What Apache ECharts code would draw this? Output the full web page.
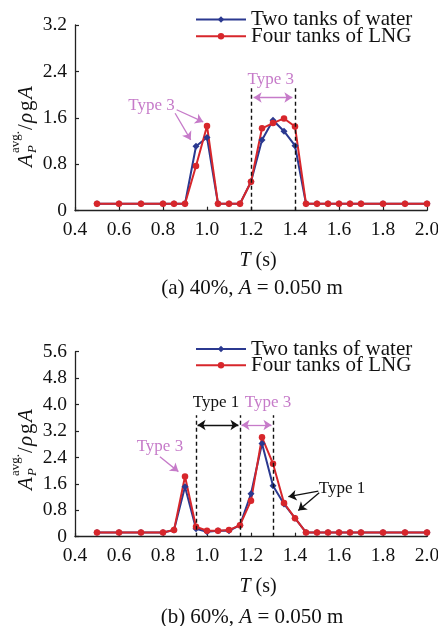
<!DOCTYPE html>
<html>
<head>
<meta charset="utf-8">
<script src="https://cdn.jsdelivr.net/npm/echarts@6/dist/echarts.min.js"></script>
<style>
  html, body { margin: 0; padding: 0; background: #fff; }
  #main { width: 438px; height: 626px; }
</style>
</head>
<body>
<div id="main"></div>
<script>
// wave periods T (s), shared by both panels
const periods = [0.5, 0.6, 0.7, 0.8, 0.85, 0.9, 0.95, 1.0, 1.05, 1.1, 1.15, 1.2, 1.25,
  1.3, 1.35, 1.4, 1.45, 1.5, 1.55, 1.6, 1.65, 1.7, 1.8, 1.9, 2.0]

// (a) 40% filling
const waterA = [0.12, 0.12, 0.12, 0.12, 0.12, 0.12, 1.11, 1.26, 0.12, 0.12, 0.12, 0.50, 1.22,
  1.56, 1.37, 1.12, 0.12, 0.12, 0.12, 0.12, 0.12, 0.12, 0.12, 0.12, 0.12]
const lngA = [0.12, 0.12, 0.12, 0.12, 0.12, 0.12, 0.77, 1.46, 0.12, 0.12, 0.12, 0.50, 1.42,
  1.51, 1.59, 1.45, 0.12, 0.12, 0.12, 0.12, 0.12, 0.12, 0.12, 0.12, 0.12]

// (b) 60% filling
const waterB = [0.13, 0.13, 0.13, 0.13, 0.20, 1.51, 0.24, 0.15, 0.18, 0.18, 0.35, 1.30, 2.82,
  1.54, 0.99, 0.56, 0.13, 0.13, 0.13, 0.13, 0.13, 0.13, 0.13, 0.13, 0.13]
const lngB = [0.13, 0.13, 0.13, 0.13, 0.20, 1.82, 0.30, 0.18, 0.18, 0.20, 0.35, 1.09, 3.01,
  2.21, 1.02, 0.56, 0.13, 0.13, 0.13, 0.13, 0.13, 0.13, 0.13, 0.13, 0.13]

const seriesNames = ['Two tanks of water', 'Four tanks of LNG']
const yMaxA = 3.2
const yMaxB = 5.6
const captions = ['(a) 40%, {i|A} = 0.050 m', '(b) 60%, {i|A} = 0.050 m']

// annotation lines in data units
const dashA = [1.2, 1.4]
const dashB = [0.95, 1.15, 1.3]

const FONT = '"Liberation Serif", "Times New Roman", "DejaVu Serif", serif'
const BLUE = '#2b3990'
const RED = '#d7262b'
const PURPLE = '#c67bc9'
const INK = '#111'

const pairs = vals => periods.map((t, i) => [t, vals[i]])

const dashLines = (xs, top) => xs.map(x => [
  { coord: [x, 0], symbol: 'none', lineStyle: { color: INK, type: [4, 3], width: 1.4 } },
  { coord: [x, top], symbol: 'none' }
])

const arrow = (from, to, color, both) => [
  { coord: from, symbol: both ? 'arrow' : 'none', lineStyle: { color, type: 'solid', width: 1.3 } },
  { coord: to, symbol: 'arrow' }
]

const makeSeries = (name, vals, grid, color, symbol, size, marks) => ({
  name,
  type: 'line',
  xAxisIndex: grid,
  yAxisIndex: grid,
  data: pairs(vals),
  symbol,
  symbolSize: size,
  showAllSymbol: true,
  lineStyle: { color, width: 2 },
  itemStyle: { color },
  emphasis: { disabled: true },
  silent: true,
  markLine: marks ? {
    silent: true,
    animation: false,
    symbolSize: 8,
    label: { show: false },
    emphasis: { disabled: true },
    data: marks
  } : undefined
})

const xAxis = grid => ({
  type: 'value',
  gridIndex: grid,
  min: 0.4,
  max: 2.0,
  interval: 0.2,
  axisLine: { onZero: false, lineStyle: { color: '#222', width: 1.3 } },
  axisTick: { inside: true, length: 4, lineStyle: { color: '#222', width: 1.2 } },
  axisLabel: { fontFamily: FONT, fontSize: 19.5, color: INK, margin: 9, formatter: v => v.toFixed(1) },
  splitLine: { show: false },
  name: '{i|T} (s)',
  nameLocation: 'middle',
  nameGap: 40,
  nameTextStyle: {
    fontFamily: FONT, fontSize: 20, color: INK, padding: [0, 0, 0, 14],
    rich: { i: { fontFamily: FONT, fontSize: 20, fontStyle: 'italic', color: INK } }
  }
})

const yAxis = (grid, max) => ({
  type: 'value',
  gridIndex: grid,
  min: 0,
  max,
  interval: 0.8,
  axisLine: { show: true, lineStyle: { color: '#222', width: 1.3 } },
  axisTick: { show: true, inside: true, length: 4, lineStyle: { color: '#222', width: 1.2 } },
  axisLabel: { fontFamily: FONT, fontSize: 19.5, color: INK, margin: 8, formatter: v => v === 0 ? '0' : v.toFixed(1) },
  splitLine: { show: false }
})

const legend = (top, gap) => ({
  data: seriesNames,
  orient: 'vertical',
  left: 190,
  top,
  itemWidth: 50,
  itemHeight: 8,
  itemGap: gap,
  selectedMode: false,
  textStyle: { fontFamily: FONT, fontSize: 21, color: INK }
})

const marksA = [
  ...dashLines(dashA, 2.11),
  arrow([1.212, 1.95], [1.388, 1.95], PURPLE, true),
  arrow([0.862, 1.74], [0.983, 1.53], PURPLE, false),
  arrow([0.855, 1.68], [0.926, 1.22], PURPLE, false)
]

const marksB = [
  ...dashLines(dashB, 3.68),
  arrow([0.957, 3.38], [1.143, 3.38], INK, true),
  arrow([1.157, 3.38], [1.293, 3.38], PURPLE, true),
  arrow([0.786, 2.42], [0.87, 1.97], PURPLE, false),
  arrow([1.506, 1.38], [1.37, 1.21], INK, false),
  arrow([1.51, 1.33], [1.415, 0.79], INK, false)
]

const chart = echarts.init(document.getElementById('main'), null, { renderer: 'canvas' })

chart.setOption({
  animation: false,
  backgroundColor: '#fff',
  grid: [
    { left: 75, top: 25, width: 352, height: 185.7, outerBoundsMode: 'none' },
    { left: 75, top: 351.7, width: 352, height: 185, outerBoundsMode: 'none' }
  ],
  legend: [legend(4, -4.3), legend(333.5, -4.7)],
  xAxis: [xAxis(0), xAxis(1)],
  yAxis: [yAxis(0, yMaxA), yAxis(1, yMaxB)],
  series: [
    makeSeries(seriesNames[0], waterA, 0, BLUE, 'diamond', 7, marksA),
    makeSeries(seriesNames[1], lngA, 0, RED, 'circle', 6.5),
    makeSeries(seriesNames[0], waterB, 1, BLUE, 'diamond', 7, marksB),
    makeSeries(seriesNames[1], lngB, 1, RED, 'circle', 6.5)
  ]
})

// labels placed from data coordinates
const px = (grid, p) => chart.convertToPixel({ gridIndex: grid }, p)

const label = (text, grid, at, color) => {
  const [x, y] = px(grid, at)
  return {
    type: 'text', x, y, silent: true,
    style: { text, fontFamily: FONT, fontSize: 17, fill: color, textAlign: 'center', textVerticalAlign: 'middle' }
  }
}

const piece = (text, x, y, size, italic) => ({
  type: 'text', x, y, silent: true,
  style: {
    text, fontFamily: FONT, fontSize: size, fontStyle: italic ? 'italic' : 'normal',
    fill: INK, textAlign: 'left', textVerticalAlign: 'middle'
  }
})

// rotated y-axis title A_P^avg./ρgA
const yTitle = (cx, cy) => ({
  type: 'group', x: cx, y: cy, rotation: Math.PI / 2, silent: true,
  children: [
    piece('A', -42, 0, 21, true),
    piece('P', -28, 7, 13, true),
    piece('avg.', -28, -10, 13, false),
    piece('/', -5, 0, 21, false),
    piece('ρ', 2, 0, 21, true),
    piece('g', 14, 0, 21, false),
    piece('A', 26, 0, 21, true)
  ]
})

const caption = (text, y) => ({
  type: 'text', x: 252, y, silent: true,
  style: {
    text, fontFamily: FONT, fontSize: 21, fill: INK, textAlign: 'center', textVerticalAlign: 'middle',
    rich: { i: { fontFamily: FONT, fontSize: 21, fontStyle: 'italic', fill: INK } }
  }
})

chart.setOption({
  graphic: [
    yTitle(26, 125),
    yTitle(26, 448),
    caption(captions[0], 288),
    caption(captions[1], 617),
    label('Type 3', 0, [0.748, 1.82], PURPLE),
    label('Type 3', 0, [1.29, 2.26], PURPLE),
    label('Type 1', 1, [1.041, 4.07], INK),
    label('Type 3', 1, [1.277, 4.07], PURPLE),
    label('Type 3', 1, [0.786, 2.72], PURPLE),
    label('Type 1', 1, [1.614, 1.46], INK)
  ]
})
</script>
</body>
</html>
